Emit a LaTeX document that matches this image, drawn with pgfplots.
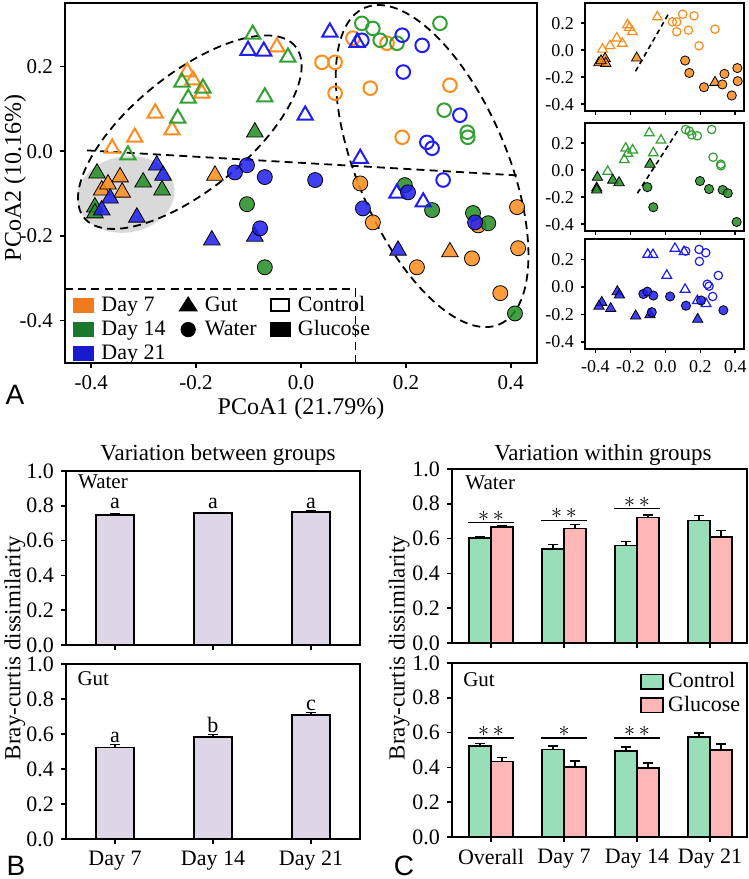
\documentclass[border=0pt]{standalone}
\usepackage{pgfplots}
\pgfplotsset{compat=1.18}
\usepackage{pgfplotstable}
\usepackage{fontspec}
\setmainfont{Liberation Serif}
\newfontfamily\sansf{Liberation Sans}

\definecolor{cO}{RGB}{255,140,26}
\definecolor{cG}{RGB}{34,140,34}
\definecolor{cGo}{RGB}{50,160,50}
\definecolor{cB}{RGB}{30,30,240}
\definecolor{lO}{RGB}{240,122,30}
\definecolor{lG}{RGB}{25,120,45}
\definecolor{lB}{RGB}{25,25,205}
\definecolor{ctrl}{RGB}{152,222,184}
\definecolor{gluc}{RGB}{255,182,182}
\definecolor{lav}{RGB}{221,214,231}
\definecolor{ellg}{RGB}{217,217,217}

% ---------------- PCoA data ----------------
\pgfplotstableread{
x y
-0.217 0.187
-0.206 0.168
-0.189 0.137
-0.278 0.090
-0.246 0.050
-0.317 0.033
-0.360 0.007
-0.046 0.246
}\oGC
\pgfplotstableread{
x y
-0.345 -0.061
-0.380 -0.092
-0.341 -0.097
-0.368 -0.078
-0.164 -0.057
0.284 -0.238
}\oGG
\pgfplotstableread{
x y
0.040 0.210
0.065 0.210
0.065 0.137
0.099 0.267
0.164 0.255
0.132 0.149
0.193 0.033
0.284 0.156
}\oWC
\pgfplotstableread{
x y
0.113 -0.076
0.137 -0.168
0.221 -0.274
0.338 -0.175
0.412 -0.132
0.414 -0.229
0.326 -0.253
0.380 -0.335
}\oWG
\pgfplotstableread{
x y
-0.227 0.163
-0.187 0.149
-0.215 0.125
-0.235 0.078
-0.330 -0.009
-0.092 0.276
-0.025 0.222
-0.069 0.128
}\gGC
\pgfplotstableread{
x y
-0.389 -0.052
-0.301 -0.073
-0.265 -0.092
-0.393 -0.132
-0.393 -0.146
-0.088 0.045
}\gGG
\pgfplotstableread{
x y
0.116 0.302
0.137 0.290
0.151 0.262
0.183 0.255
0.265 0.302
0.273 0.097
0.317 0.045
0.318 0.033
}\gWC
\pgfplotstableread{
x y
-0.103 -0.125
-0.069 -0.274
0.198 -0.080
0.250 -0.139
0.328 -0.146
0.357 -0.170
0.408 -0.383
}\gWG
\pgfplotstableread{
x y
-0.101 0.238
-0.071 0.236
0.055 0.281
0.107 0.257
0.008 0.085
0.113 -0.017
0.183 -0.099
0.233 -0.120
}\bGC
\pgfplotstableread{
x y
-0.275 -0.033
-0.263 -0.057
-0.364 -0.111
-0.380 -0.139
-0.313 -0.156
-0.170 -0.210
-0.088 -0.201
0.185 -0.234
}\bGG
\pgfplotstableread{
x y
0.116 0.262
0.193 0.274
0.231 0.250
0.195 0.187
0.240 0.021
0.250 0.007
0.271 -0.068
0.303 0.085
}\bWC
\pgfplotstableread{
x y
-0.126 -0.050
-0.103 -0.033
-0.069 -0.061
0.027 -0.068
0.118 -0.135
0.204 -0.097
-0.078 -0.182
0.332 -0.168
}\bWG

% ---------------- bar data ----------------
\pgfplotstableread{
x y e
0 0.747 0.006
1 0.757 0.005
2 0.766 0.005
}\BW
\pgfplotstableread{
x y e
0 0.524 0.016
1 0.583 0.015
2 0.709 0.013
}\BG
\pgfplotstableread{
x y e
0 0.603 0.010
1 0.542 0.025
2 0.561 0.023
3 0.703 0.029
}\CWc
\pgfplotstableread{
x y e
0 0.665 0.009
1 0.659 0.021
2 0.722 0.015
3 0.609 0.038
}\CWg
\pgfplotstableread{
x y e
0 0.524 0.013
1 0.504 0.019
2 0.496 0.021
3 0.574 0.025
}\CGc
\pgfplotstableread{
x y e
0 0.435 0.021
1 0.401 0.036
2 0.397 0.030
3 0.500 0.036
}\CGg

\pgfplotsset{
  base/.style={scale only axis, anchor=north west,
    axis line style={line width=0.9pt},
    tick style={line width=0.8pt, black},
    tick align=outside, tick pos=left, major tick length=2.5pt,
    /pgf/number format/assume math mode=true},
  numx/.style={xticklabel={\pgfmathprintnumber[fixed,fixed zerofill,precision=1]{\tick}}},
  numy/.style={yticklabel={\pgfmathprintnumber[fixed,fixed zerofill,precision=1]{\tick}}},
  fT/.style={only marks, forget plot, mark=triangle*, mark size=4.8pt, mark options={draw=none, fill=#1, fill opacity=0.85}},
  oT/.style={only marks, forget plot, mark=triangle, mark size=4.4pt, mark options={draw=#1, line width=1pt}},
  fC/.style={only marks, forget plot, mark=*, mark size=3.75pt, mark options={draw=none, fill=#1, fill opacity=0.85}},
  oC/.style={only marks, forget plot, mark=o, mark size=3.4pt, mark options={draw=#1, line width=1pt}},
  sfT/.style={only marks, forget plot, mark=triangle*, mark size=3pt, mark options={draw=none, fill=#1, fill opacity=0.85}},
  soT/.style={only marks, forget plot, mark=triangle, mark size=2.8pt, mark options={draw=#1, line width=0.6pt}},
  sfC/.style={only marks, forget plot, mark=*, mark size=2.3pt, mark options={draw=none, fill=#1, fill opacity=0.85}},
  soC/.style={only marks, forget plot, mark=o, mark size=2.1pt, mark options={draw=#1, line width=0.6pt}},
  barstyle/.style={fill=#1, draw=black, line width=0.8pt,
    error bars/y dir=plus, error bars/y explicit,
    error bars/error bar style={line width=0.8pt, black},
    error bars/error mark options={rotate=90, black, line width=0.8pt, mark size=2.5pt}},
  small/.style={base, width=79.5pt, height=54pt, xmin=-0.46, xmax=0.45, ymin=-0.45, ymax=0.35,
    xtick={-0.4,-0.2,0,0.2,0.4}, ytick={-0.4,-0.2,0,0.2}, numx, numy,
    tick label style={font=\fontsize{9}{10}\selectfont}, major tick length=2pt,
    axis line style={line width=0.8pt}},
  barax/.style={base, numy, ymin=0, ymax=1, ytick={0,0.2,0.4,0.6,0.8,1}, ybar,
    yticklabel style={font=\fontsize{11}{12}\selectfont},
    xticklabel style={font=\fontsize{11}{12}\selectfont}},
}
\tikzset{dsh/.style={line width=0.9pt, dash pattern=on 4pt off 2.6pt},
  lbl/.style={anchor=base west, inner sep=0pt, font=\fontsize{10.5}{12}\selectfont},
  let/.style={anchor=base, inner sep=0pt, font=\fontsize{11}{12}\selectfont},
  star/.style={anchor=south, inner sep=0.5pt, font=\fontsize{11}{12}\selectfont}}

\begin{document}
\begin{tikzpicture}
\useasboundingbox (0,0) rectangle (374.5pt,-439.5pt);

% ================= Panel A main =================
\begin{axis}[base, numx, numy, at={(32.5pt,-1.5pt)}, width=236pt, height=180pt,
  xmin=-0.45, xmax=0.45, ymin=-0.5, ymax=0.35,
  xtick={-0.4,-0.2,0,0.2,0.4}, ytick={-0.4,-0.2,0,0.2},
  tick label style={font=\fontsize{10.5}{12}\selectfont},
  legend columns=3, legend cell align=left,
  legend style={at={(0.017,0.19)}, anchor=north west, draw=none, fill=none, inner sep=0pt,
    font=\fontsize{11}{12}\selectfont, row sep=1.8pt, nodes={inner sep=0.6pt},
    /tikz/every odd column/.append style={column sep=3pt},
    /tikz/every even column/.append style={column sep=6pt}},
]
\fill[ellg, rotate around={10:(axis cs:-0.334,-0.102)}] (axis cs:-0.334,-0.102) ellipse [x radius=24.5pt, y radius=19pt];
\addplot[oT=cO] table {\oGC};
\addplot[fT=cO] table {\oGG};
\addplot[oC=cO] table {\oWC};
\addplot[fC=cO] table {\oWG};
\addplot[oT=cGo] table {\gGC};
\addplot[fT=cG] table {\gGG};
\addplot[oC=cGo] table {\gWC};
\addplot[fC=cG] table {\gWG};
\addplot[oT=cB] table {\bGC};
\addplot[fT=cB] table {\bGG};
\addplot[oC=cB] table {\bWC};
\addplot[fC=cB] table {\bWG};
\draw[dsh, rotate around={39:(axis cs:-0.212,0.045)}] (axis cs:-0.212,0.045) ellipse [x radius=68pt, y radius=29pt];
\draw[dsh, rotate around={-67:(axis cs:0.250,-0.035)}] (axis cs:0.250,-0.035) ellipse [x radius=86pt, y radius=37.5pt];
\draw[dsh] (axis cs:-0.408,0.002) -- (axis cs:0.412,-0.057);
\draw[dsh] (axis cs:-0.45,-0.326) -- (axis cs:0.104,-0.326) -- (axis cs:0.104,-0.5);
\addlegendimage{legend image code/.code={\fill[lO] (0pt,-3.5pt) rectangle (10pt,3.5pt);}}
\addlegendentry{Day 7}
\addlegendimage{legend image code/.code={\fill[black] (0.5pt,-2.8pt) -- (9.5pt,-2.8pt) -- (5pt,4.2pt) -- cycle;}}
\addlegendentry{Gut}
\addlegendimage{legend image code/.code={\draw[black, line width=1pt] (0.5pt,-3pt) rectangle (9.5pt,3pt);}}
\addlegendentry{Control}
\addlegendimage{legend image code/.code={\fill[lG] (0pt,-3.5pt) rectangle (10pt,3.5pt);}}
\addlegendentry{Day 14}
\addlegendimage{legend image code/.code={\fill[black] (5pt,0pt) circle (3.6pt);}}
\addlegendentry{Water}
\addlegendimage{legend image code/.code={\fill[black] (0pt,-3.5pt) rectangle (10pt,3.5pt);}}
\addlegendentry{Glucose}
\addlegendimage{legend image code/.code={\fill[lB] (0pt,-3.5pt) rectangle (10pt,3.5pt);}}
\addlegendentry{Day 21}
\end{axis}

% ================= small panels =================
\begin{axis}[small, at={(292.5pt,-1.5pt)}, xticklabels={}]
\addplot[soT=cO] table {\oGC};
\addplot[sfT=cO] table {\oGG};
\addplot[soC=cO] table {\oWC};
\addplot[sfC=cO] table {\oWG};
\draw[line width=0.8pt, dash pattern=on 2.5pt off 1.8pt] (axis cs:-0.171,-0.156) -- (axis cs:0.023,0.281);
\end{axis}
\begin{axis}[small, at={(292.5pt,-61.5pt)}, xticklabels={}]
\addplot[soT=cGo] table {\gGC};
\addplot[sfT=cG] table {\gGG};
\addplot[soC=cGo] table {\gWC};
\addplot[sfC=cG] table {\gWG};
\draw[line width=0.8pt, dash pattern=on 2.5pt off 1.8pt] (axis cs:-0.16,-0.17) -- (axis cs:0.08,0.311);
\end{axis}
\begin{axis}[small, at={(292.5pt,-119.5pt)}, height=55pt]
\addplot[soT=cB] table {\bGC};
\addplot[sfT=cB] table {\bGG};
\addplot[soC=cB] table {\bWC};
\addplot[sfC=cB] table {\bWG};
\end{axis}

% ================= Panel B =================
\begin{axis}[barax, at={(33pt,-235.5pt)}, width=147pt, height=87pt,
  xmin=-0.5, xmax=2.5, xtick={0,1,2}, xticklabels={}, bar width=19pt]
\addplot[barstyle=lav] table[x=x, y=y, y error=e] {\BW};
\node[lbl] at (rel axis cs:0.04,0.9) {Water};
\node[let] at (axis cs:0,0.786) {a};
\node[let] at (axis cs:1,0.786) {a};
\node[let] at (axis cs:2,0.786) {a};
\end{axis}
\begin{axis}[barax, at={(33pt,-332pt)}, width=147pt, height=87.5pt,
  xmin=-0.5, xmax=2.5, xtick={0,1,2}, xticklabels={Day 7, Day 14, Day 21}, bar width=19pt]
\addplot[barstyle=lav] table[x=x, y=y, y error=e] {\BG};
\node[lbl] at (rel axis cs:0.038,0.875) {Gut};
\node[let] at (axis cs:0,0.554) {a};
\node[let] at (axis cs:1,0.611) {b};
\node[let] at (axis cs:2,0.737) {c};
\end{axis}

% ================= Panel C =================
\begin{axis}[barax, at={(226pt,-234.5pt)}, width=147.5pt, height=87pt,
  xmin=-0.534, xmax=3.507, xtick={0,1,2,3}, xticklabels={}, bar width=11pt]
\addplot[bar shift=-5.5pt, barstyle=ctrl] table[x=x, y=y, y error=e] {\CWc};
\addplot[bar shift=5.5pt, barstyle=gluc] table[x=x, y=y, y error=e] {\CWg};
\node[lbl] at (rel axis cs:0.044,0.885) {Water};
\draw[line width=0.8pt] (axis cs:-0.31,0.693) -- (axis cs:0.31,0.693);
\draw[line width=0.8pt] (axis cs:0.69,0.705) -- (axis cs:1.31,0.705);
\draw[line width=0.8pt] (axis cs:1.69,0.772) -- (axis cs:2.31,0.772);
\node[star] at (axis cs:0,0.693) {$\ast\mkern3mu\ast$};
\node[star] at (axis cs:1,0.705) {$\ast\mkern3mu\ast$};
\node[star] at (axis cs:2,0.772) {$\ast\mkern3mu\ast$};
\end{axis}
\begin{axis}[barax, at={(226pt,-331.5pt)}, width=147.5pt, height=87pt,
  xmin=-0.534, xmax=3.507, xtick={0,1,2,3},
  xticklabels={Overall, Day 7, Day 14, Day 21}, bar width=11pt,
  legend cell align=left,
  legend style={at={(0.637,0.954)}, anchor=north west, draw=none, fill=none, inner sep=0pt,
    font=\fontsize{11}{12}\selectfont, row sep=1.5pt, nodes={inner sep=0.6pt},
    /tikz/every odd column/.append style={column sep=1.5pt}}]
\addplot[bar shift=-5.5pt, barstyle=ctrl,
  legend image code/.code={\draw[fill=ctrl, draw=black, line width=0.8pt] (0pt,-3.6pt) rectangle (11pt,3.6pt);}]
  table[x=x, y=y, y error=e] {\CGc};
\addlegendentry{Control}
\addplot[bar shift=5.5pt, barstyle=gluc,
  legend image code/.code={\draw[fill=gluc, draw=black, line width=0.8pt] (0pt,-3.6pt) rectangle (11pt,3.6pt);}]
  table[x=x, y=y, y error=e] {\CGg};
\addlegendentry{Glucose}
\node[lbl] at (rel axis cs:0.037,0.865) {Gut};
\draw[line width=0.8pt] (axis cs:-0.31,0.568) -- (axis cs:0.31,0.568);
\draw[line width=0.8pt] (axis cs:0.69,0.568) -- (axis cs:1.31,0.568);
\draw[line width=0.8pt] (axis cs:1.69,0.568) -- (axis cs:2.31,0.568);
\node[star] at (axis cs:0,0.568) {$\ast\mkern3mu\ast$};
\node[star] at (axis cs:1,0.568) {$\ast$};
\node[star] at (axis cs:2,0.568) {$\ast\mkern3mu\ast$};
\end{axis}

% ================= labels =================
\node[font=\fontsize{12}{14}\selectfont] at (150.5pt,-204.5pt) {PCoA1 (21.79\%)};
\node[rotate=90, font=\fontsize{12}{14}\selectfont] at (7.5pt,-89pt) {PCoA2 (10.16\%)};
\node[anchor=base, inner sep=0pt, font={\sansf\fontsize{14}{16}\selectfont}] at (7.5pt,-202pt) {A};
\node[anchor=base, inner sep=0pt, font={\sansf\fontsize{14}{16}\selectfont}] at (8pt,-437.5pt) {B};
\node[anchor=base, inner sep=0pt, font={\sansf\fontsize{14}{16}\selectfont}] at (202pt,-437.5pt) {C};
\node[font=\fontsize{11.5}{13}\selectfont] at (109pt,-227.5pt) {Variation between groups};
\node[font=\fontsize{11.5}{13}\selectfont] at (301.5pt,-227.5pt) {Variation within groups};
\node[rotate=90, font=\fontsize{11.5}{13}\selectfont] at (7.5pt,-324pt) {Bray-curtis dissimilarity};
\node[rotate=90, font=\fontsize{11.5}{13}\selectfont] at (199.5pt,-324pt) {Bray-curtis dissimilarity};
\end{tikzpicture}
\end{document}
